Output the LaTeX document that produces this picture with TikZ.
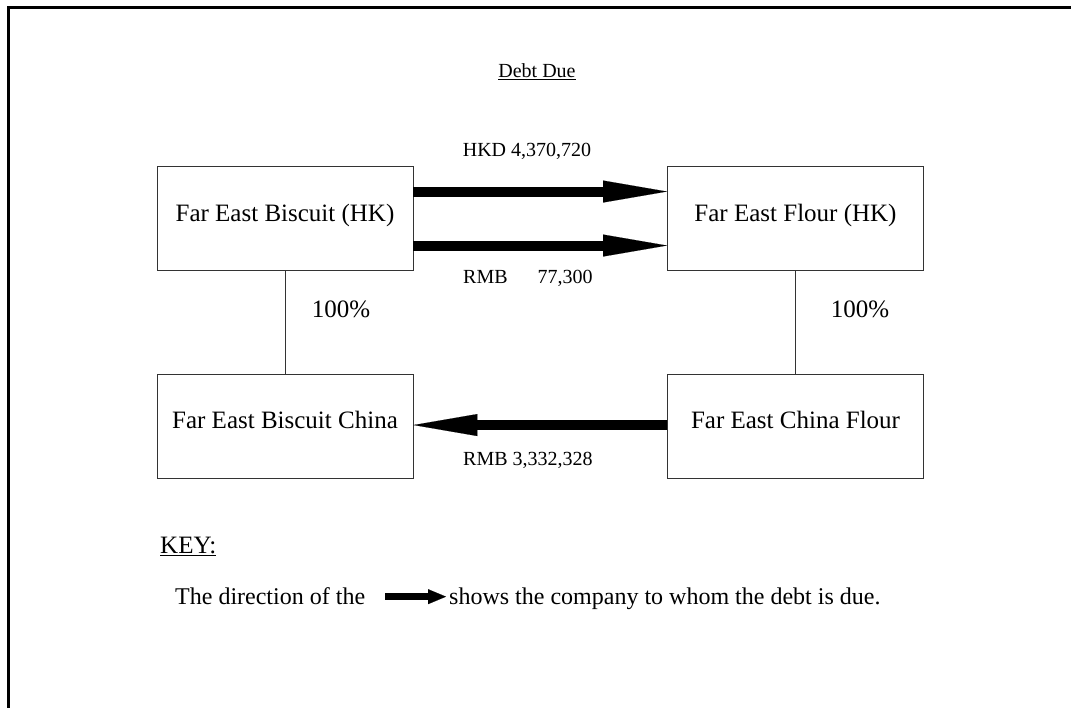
\documentclass[tikz,border=0pt]{standalone}
\usepackage{fontspec}
\setmainfont{Liberation Serif}
\usetikzlibrary{arrows.meta}
\begin{document}
\begin{tikzpicture}[x=1pt,y=-1pt,
  company/.style={draw=black!80, line width=0.9pt, minimum width=256pt, minimum height=104pt, inner sep=0pt, font=\fontsize{25}{28}\selectfont},
  debtarrow/.style={line width=10pt, -{Triangle[length=64pt,width=22pt,line width=0.1pt]}},
  keyarrow/.style={line width=7pt, -{Triangle[length=18pt,width=15pt,line width=0.1pt]}},
  amount/.style={font=\fontsize{20}{24}\selectfont, inner sep=0pt},
  pct/.style={font=\fontsize{25}{28}\selectfont, inner sep=0pt},
  keytext/.style={font=\fontsize{24}{28}\selectfont, inner sep=0pt},
  link/.style={draw=black!80, line width=0.9pt}]
\useasboundingbox (0,0) rectangle (1071,708);
\draw[line width=3pt] (8.5,708) -- (8.5,7.5) -- (1071,7.5);
% title
\node[font=\fontsize{20}{24}\selectfont, inner sep=0pt] (title) at (537,72) {\underline{Debt Due}};
% companies
\node[company] (bhk) at (285,218) {\raisebox{10pt}{Far East Biscuit (HK)}};
\node[company] (fhk) at (795.5,218) {\raisebox{10pt}{Far East Flour (HK)}};
\node[company] (bc) at (285,426.5) {\raisebox{13pt}{Far East Biscuit China}};
\node[company] (fcf) at (795.5,426.5) {\raisebox{13pt}{Far East China Flour}};
% ownership links
\draw[link] (bhk) -- (bc);
\draw[link] (fhk) -- (fcf);
\node[pct] (p1) at (341,309) {100\%};
\node[pct] (p2) at (860,309) {100\%};
% debt arrows
\draw[debtarrow] ([yshift=-26pt]bhk.north east) -- ([yshift=-26pt]fhk.north west);
\draw[debtarrow] ([yshift=-80pt]bhk.north east) -- ([yshift=-80pt]fhk.north west);
\draw[debtarrow] ([yshift=-51pt]fcf.north west) -- ([yshift=-51pt]bc.north east);
\node[amount] (a1) at (527,151) {HKD 4,370,720};
\node[amount, anchor=west] (a2) at (463,278) {RMB\hspace{30pt}77,300};
\node[amount, anchor=west] (a3) at (463,460) {RMB 3,332,328};
% key
\node[keytext, font=\fontsize{25}{28}\selectfont, anchor=west] (key) at (160,546) {\underline{KEY:}};
\node[keytext, anchor=base west] (s1) at (175,604) {The direction of the};
\node[keytext, anchor=base west] (s2) at (449,604) {shows the company to whom the debt is due.};
\draw[keyarrow] ([xshift=20pt,yshift=-1pt]s1.east) -- ([xshift=-3pt,yshift=-1pt]s1.east -| s2.west);
\end{tikzpicture}
\end{document}
